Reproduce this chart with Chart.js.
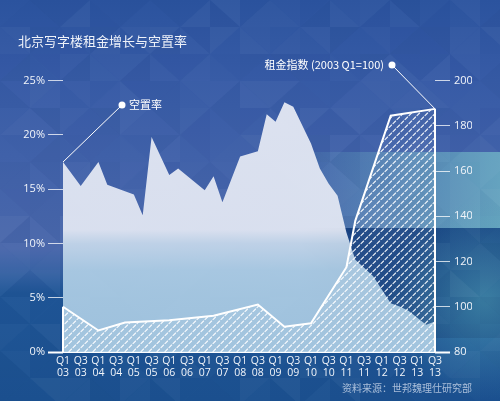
<!DOCTYPE html>
<html>
<head>
<meta charset="utf-8">
<script src="https://cdn.jsdelivr.net/npm/chart.js@4.4.1/dist/chart.umd.min.js"></script>
<style>
  html, body { margin: 0; padding: 0; background: #2a529c; }
  #wrap { width: 500px; height: 401px; }
</style>
</head>
<body>
<div id="wrap"><canvas id="rentChart" width="500" height="401"></canvas></div>
<script>
// quarters from Q1 2003 to Q3 2013, one label per quarter
const quarters = [
  'Q1 03', 'Q2 03', 'Q3 03', 'Q4 03', 'Q1 04', 'Q2 04', 'Q3 04', 'Q4 04',
  'Q1 05', 'Q2 05', 'Q3 05', 'Q4 05', 'Q1 06', 'Q2 06', 'Q3 06', 'Q4 06',
  'Q1 07', 'Q2 07', 'Q3 07', 'Q4 07', 'Q1 08', 'Q2 08', 'Q3 08', 'Q4 08',
  'Q1 09', 'Q2 09', 'Q3 09', 'Q4 09', 'Q1 10', 'Q2 10', 'Q3 10', 'Q4 10',
  'Q1 11', 'Q2 11', 'Q3 11', 'Q4 11', 'Q1 12', 'Q2 12', 'Q3 12', 'Q4 12',
  'Q1 13', 'Q2 13', 'Q3 13'
];

// vacancy rate (%), null where the outline has no corner
const vacancyRate = [
  17.5, null, 15.3, null, 17.5, 15.4, null, null,
  14.5, 12.6, 19.8, null, 16.3, 16.9, null, null,
  14.9, 16.2, 13.8, null, 18.0, null, 18.5, 21.9,
  21.2, 23.0, 22.6, null, 19.2, 16.9, 15.5, 14.4,
  11.0, 8.5, null, 7.0, null, 4.5, 4.2, 3.8,
  null, 2.5, 2.8
];

// rent index (2003 Q1 = 100)
const rentIndex = [
  100, null, null, null, 89.5, null, null, 93,
  null, null, null, null, 94, null, null, null,
  null, 96, 97, null, null, null, 101, null,
  null, 91.2, null, null, 92.7, null, null, null,
  117.5, 138, null, null, null, 184.5, null, null,
  null, null, 187.5
];

const vacancyTicks = [0, 25, 5];   // min, max, step
const rentTicks = [80, 200, 20];

const chartTitle = '北京写字楼租金增长与空置率';
const sourceNote = '资料来源：世邦魏理仕研究部';
const vacancyName = '空置率';
const rentName = '租金指数 (2003 Q1=100)';

const FONT = "'Open Sans', 'Noto Sans CJK SC', sans-serif";
const CJK = "'Noto Sans CJK SC', 'Open Sans', sans-serif";
Chart.defaults.font.family = FONT;
Chart.defaults.color = '#f2f5fa';

const canvas = document.getElementById('rentChart');
const ctx = canvas.getContext('2d');

// white dashed hatch for the rent area
function makeHatch() {
  const c = document.createElement('canvas');
  c.width = 8; c.height = 8;
  const p = c.getContext('2d');
  p.fillStyle = 'rgba(255,255,255,0.05)';
  p.fillRect(0, 0, 8, 8);
  p.strokeStyle = 'rgba(255,255,255,0.92)';
  p.lineWidth = 1.1;
  p.lineCap = 'round';
  p.beginPath();
  p.moveTo(1, 3.6); p.lineTo(3.6, 1);
  p.moveTo(5, 7.6); p.lineTo(7.6, 5);
  p.stroke();
  return ctx.createPattern(c, 'repeat');
}
const hatch = makeHatch();

// background: blue gradient with a low-poly texture
const bgPlugin = {
  id: 'bg',
  beforeDraw(chart) {
    const { ctx, width, height } = chart;
    ctx.save();
    const g = ctx.createLinearGradient(0, 0, 0, height);
    g.addColorStop(0, '#2b539e');
    g.addColorStop(0.2, '#375ba6');
    g.addColorStop(0.45, '#4363aa');
    g.addColorStop(0.62, '#4967ab');
    g.addColorStop(0.68, '#3561a3');
    g.addColorStop(0.73, '#1f5596');
    g.addColorStop(1, '#1c5190');
    ctx.fillStyle = g;
    ctx.fillRect(0, 0, width, height);

    // teal band on the right
    let h = ctx.createLinearGradient(280, 0, 500, 0);
    h.addColorStop(0, 'rgba(115,185,200,0)');
    h.addColorStop(1, 'rgba(115,190,200,0.7)');
    ctx.fillStyle = h;
    ctx.fillRect(280, 152, 220, 76);
    // navy band on the right
    h = ctx.createLinearGradient(300, 0, 500, 0);
    h.addColorStop(0, 'rgba(20,62,125,0)');
    h.addColorStop(0.25, 'rgba(20,64,128,0.95)');
    h.addColorStop(1, 'rgba(22,68,130,0.95)');
    ctx.fillStyle = h;
    ctx.fillRect(300, 228, 200, 110);
    // teal glow low right
    const r = ctx.createRadialGradient(485, 300, 5, 485, 300, 100);
    r.addColorStop(0, 'rgba(90,175,190,0.5)');
    r.addColorStop(1, 'rgba(90,175,190,0)');
    ctx.fillStyle = r;
    ctx.fillRect(0, 0, width, height);

    // triangles
    const cw = 30, chh = 27;
    for (let row = 0; row * chh < height; row++) {
      for (let col = 0; col * cw < width; col++) {
        const x0 = col * cw, y0 = row * chh;
        for (let t = 0; t < 2; t++) {
          const s = Math.sin((row * 37 + col * 17 + t * 7) * 12.9898) * 43758.5453;
          const f = s - Math.floor(s);
          const light = f > 0.5;
          ctx.fillStyle = light
            ? 'rgba(255,255,255,' + ((f - 0.5) * 0.07).toFixed(3) + ')'
            : 'rgba(0,20,70,' + (f * 0.07).toFixed(3) + ')';
          ctx.beginPath();
          if ((row + col) % 2 === 0) {
            if (t === 0) { ctx.moveTo(x0, y0); ctx.lineTo(x0 + cw, y0); ctx.lineTo(x0, y0 + chh); }
            else { ctx.moveTo(x0 + cw, y0); ctx.lineTo(x0 + cw, y0 + chh); ctx.lineTo(x0, y0 + chh); }
          } else {
            if (t === 0) { ctx.moveTo(x0, y0); ctx.lineTo(x0 + cw, y0); ctx.lineTo(x0 + cw, y0 + chh); }
            else { ctx.moveTo(x0, y0); ctx.lineTo(x0 + cw, y0 + chh); ctx.lineTo(x0, y0 + chh); }
          }
          ctx.closePath();
          ctx.fill();
        }
      }
    }
    ctx.restore();
  }
};

// edges of the rent area, leader lines and series labels
const notePlugin = {
  id: 'notes',
  afterDatasetsDraw(chart) {
    const { ctx, chartArea, scales } = chart;
    const xs = scales.x, yL = scales.y, yR = scales.y1;
    const last = quarters.length - 1;
    ctx.save();
    ctx.strokeStyle = '#ffffff';
    ctx.lineWidth = 2;
    [0, last].forEach(i => {
      const px = xs.getPixelForValue(i);
      ctx.beginPath();
      ctx.moveTo(px, yR.getPixelForValue(rentIndex[i]));
      ctx.lineTo(px, chartArea.bottom);
      ctx.stroke();
    });

    ctx.lineWidth = 1;
    ctx.fillStyle = '#ffffff';
    ctx.font = '11px ' + CJK;
    ctx.textBaseline = 'middle';

    // vacancy label
    const vx = xs.getPixelForValue(0), vy = yL.getPixelForValue(vacancyRate[0]);
    ctx.beginPath(); ctx.moveTo(vx, vy); ctx.lineTo(122, 105); ctx.stroke();
    ctx.beginPath(); ctx.arc(122, 105, 3.5, 0, Math.PI * 2); ctx.fill();
    ctx.textAlign = 'left';
    ctx.fillText(vacancyName, 129, 105);

    // rent label
    const rx = xs.getPixelForValue(last), ry = yR.getPixelForValue(rentIndex[last]);
    ctx.beginPath(); ctx.moveTo(rx, ry); ctx.lineTo(392, 65); ctx.stroke();
    ctx.beginPath(); ctx.arc(392, 65, 3.5, 0, Math.PI * 2); ctx.fill();
    ctx.textAlign = 'right';
    ctx.fillText(rentName, 384, 65);
    ctx.restore();
  }
};

const tickGrid = {
  drawOnChartArea: false,
  drawTicks: true,
  tickLength: 15,
  tickColor: c => (c.index === 0 ? '#ffffff' : 'rgba(255,255,255,0.75)'),
  tickWidth: c => (c.index === 0 ? 2 : 1)
};

new Chart(ctx, {
  type: 'line',
  data: {
    labels: quarters,
    datasets: [
      {
        label: rentName,
        data: rentIndex,
        yAxisID: 'y1',
        order: 0,
        borderColor: '#ffffff',
        borderWidth: 2,
        backgroundColor: hatch,
        fill: 'start',
        spanGaps: true,
        tension: 0,
        pointRadius: 0
      },
      {
        label: vacancyName,
        data: vacancyRate,
        yAxisID: 'y',
        order: 1,
        borderWidth: 0,
        borderColor: 'rgba(0,0,0,0)',
        backgroundColor: function (c) {
          const area = c.chart.chartArea;
          if (!area) return 'rgba(226,231,243,0.93)';
          const g = c.chart.ctx.createLinearGradient(0, area.top, 0, area.bottom);
          g.addColorStop(0, 'rgba(230,234,244,0.94)');
          g.addColorStop(0.55, 'rgba(226,231,243,0.94)');
          g.addColorStop(0.6, 'rgba(200,218,236,0.92)');
          g.addColorStop(0.7, 'rgba(176,207,230,0.92)');
          g.addColorStop(1, 'rgba(168,202,227,0.92)');
          return g;
        },
        fill: 'origin',
        spanGaps: true,
        tension: 0,
        pointRadius: 0
      }
    ]
  },
  options: {
    responsive: false,
    animation: false,
    layout: { padding: { left: 18, right: 28, top: 0, bottom: 0 } },
    plugins: {
      legend: { display: false },
      tooltip: { enabled: false },
      title: {
        display: true,
        text: chartTitle,
        align: 'start',
        color: '#eef2f9',
        font: { family: CJK, size: 13, weight: 'normal', lineHeight: 1.2 },
        padding: { top: 33, bottom: 32 }
      },
      subtitle: {
        display: true,
        text: sourceNote,
        position: 'bottom',
        align: 'end',
        color: 'rgba(205,218,236,0.8)',
        font: { family: CJK, size: 10, weight: 'normal', lineHeight: 1.2 },
        padding: { top: 0, bottom: 7 }
      }
    },
    scales: {
      x: {
        z: 1,
        offset: false,
        grid: { display: false, drawTicks: false },
        border: { display: true, color: '#ffffff', width: 2 },
        ticks: {
          autoSkip: false,
          maxRotation: 0,
          padding: 3,
          font: { size: 10.5, lineHeight: 1.15 },
          callback: (v, i) => (i % 2 === 0 ? quarters[i].split(' ') : null)
        },
        afterFit: s => { s.height = 30; }
      },
      y: {
        position: 'left',
        min: vacancyTicks[0],
        max: vacancyTicks[1],
        grid: tickGrid,
        border: { display: false },
        ticks: { stepSize: vacancyTicks[2], padding: 3, font: { size: 11 }, callback: v => v + '%' },
        afterFit: s => { s.width = 45; }
      },
      y1: {
        position: 'right',
        min: rentTicks[0],
        max: rentTicks[1],
        grid: tickGrid,
        border: { display: false },
        ticks: { stepSize: rentTicks[2], padding: 4, font: { size: 11 } },
        afterFit: s => { s.width = 37; }
      }
    }
  },
  plugins: [bgPlugin, notePlugin]
});
</script>
</body>
</html>
